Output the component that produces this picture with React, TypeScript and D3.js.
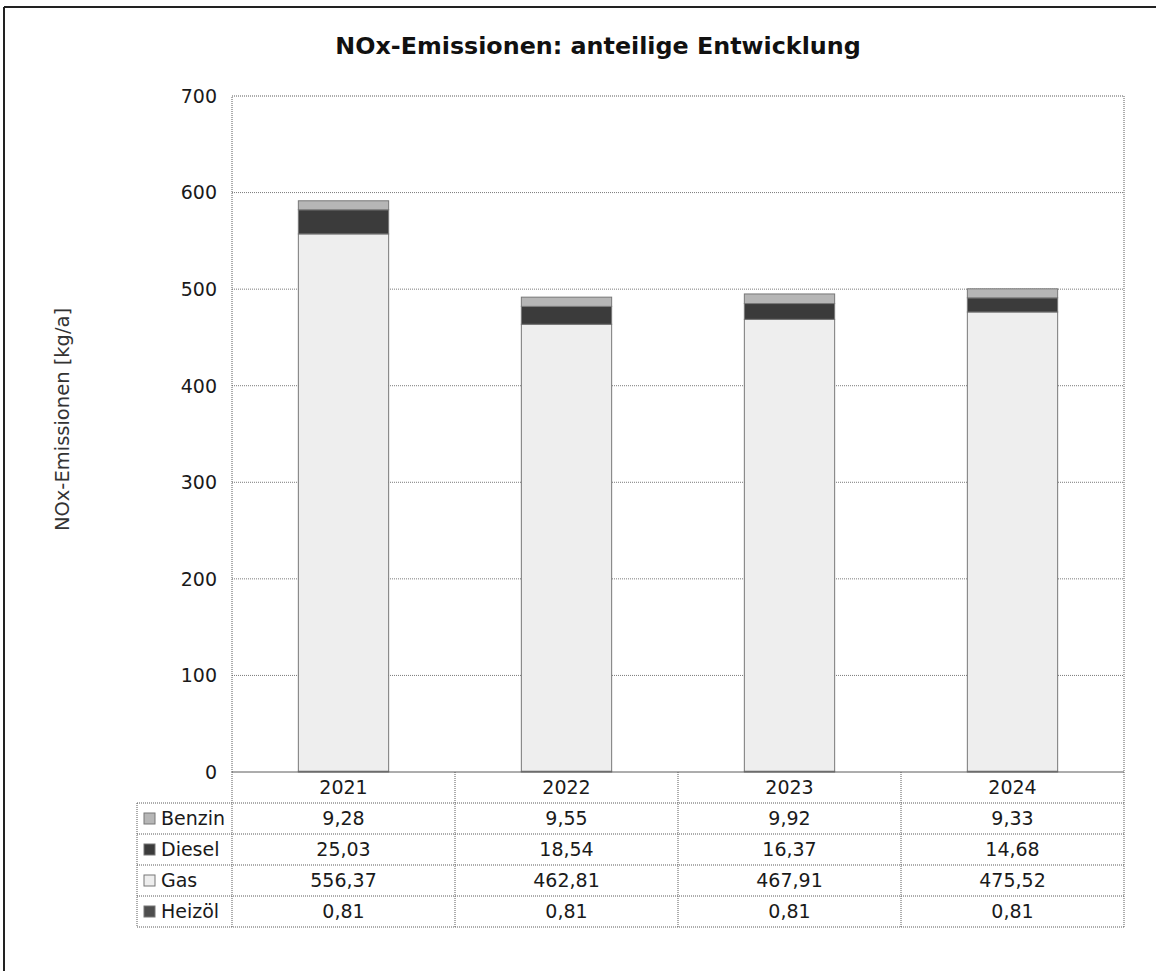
import React from "react";
import * as d3 from "d3";

// NOx emissions per fuel type, kg/a
const years = ["2021", "2022", "2023", "2024"];
const benzin = [9.28, 9.55, 9.92, 9.33];
const diesel = [25.03, 18.54, 16.37, 14.68];
const gas = [556.37, 462.81, 467.91, 475.52];
const heizoel = [0.81, 0.81, 0.81, 0.81];
const yTicks = [0, 100, 200, 300, 400, 500, 600, 700];

const series = [
  { key: "Heizöl", values: heizoel, fill: "#4e4e4e" },
  { key: "Gas", values: gas, fill: "#eeeeee" },
  { key: "Diesel", values: diesel, fill: "#3b3b3b" },
  { key: "Benzin", values: benzin, fill: "#b6b6b6" },
];

const W = 1156;
const H = 971;
const plot = { left: 232, right: 1124, top: 96, bottom: 772 };
const rowH = 31;
const tableLeft = 137;
const font = "'DejaVu Sans', Verdana, sans-serif";
const fmt = (v: number) => v.toFixed(2).replace(".", ",");

export default function App() {
  const x = d3.scaleBand<string>().domain(years).range([plot.left, plot.right]).padding(0);
  const y = d3.scaleLinear().domain([0, 700]).range([plot.bottom, plot.top]);
  const barW = x.bandwidth() * 0.405;

  const rows = years.map((yr, i) => {
    const r: Record<string, number | string> = { year: yr };
    series.forEach((s) => (r[s.key] = s.values[i]));
    return r;
  });
  const stacked = d3.stack<any>().keys(series.map((s) => s.key))(rows);

  const tableRows = [...series].reverse();
  const tableBottom = plot.bottom + rowH * (tableRows.length + 1);

  return (
    <svg width={W} height={H} style={{ display: "block", position: "absolute", left: 0, top: 0 }}>
      <rect width={W} height={H} fill="#ffffff" />
      {/* frame */}
      <line x1={4} x2={W} y1={7} y2={7} stroke="#222" strokeWidth={2} />
      <line x1={4} x2={4} y1={7} y2={H} stroke="#222" strokeWidth={2} />

      <text x={598} y={54} textAnchor="middle" fontFamily={font} fontWeight="bold" fontSize={23.8} fill="#111">
        NOx-Emissionen: anteilige Entwicklung
      </text>

      {/* grid */}
      {yTicks.slice(1, -1).map((t) => (
        <line key={t} x1={plot.left} x2={plot.right} y1={y(t)} y2={y(t)} stroke="#7a7a7a" strokeDasharray="1,1" />
      ))}
      {yTicks.map((t) => (
        <text key={"l" + t} x={217} y={y(t)} dy="0.36em" textAnchor="end" fontFamily={font} fontSize={19} fill="#1a1a1a">
          {t}
        </text>
      ))}

      <text
        transform={`translate(69,${(302 + 537) / 2}) rotate(-90)`}
        textAnchor="middle"
        fontFamily={font}
        fontSize={19.5}
        fill="#333"
      >
        NOx-Emissionen [kg/a]
      </text>

      {/* stacked bars */}
      {stacked.map((layer, li) => (
        <g key={layer.key}>
          {layer.map((d, i) => (
            <rect
              key={years[i]}
              x={(x(years[i]) as number) + (x.bandwidth() - barW) / 2}
              y={y(d[1])}
              width={barW}
              height={Math.max(0, y(d[0]) - y(d[1]))}
              fill={series[li].fill}
              stroke="#777"
              strokeWidth={1}
            />
          ))}
        </g>
      ))}

      {/* plot border */}
      <rect
        x={plot.left}
        y={plot.top}
        width={plot.right - plot.left}
        height={plot.bottom - plot.top}
        fill="none"
        stroke="#5a5a5a"
        strokeDasharray="1,1"
      />

      {/* data table */}
      <g fontFamily={font} fontSize={19} fill="#1a1a1a">
        {d3.range(tableRows.length + 2).map((k) => {
          const yy = plot.bottom + k * rowH;
          return (
            <line
              key={"h" + k}
              x1={k === 0 ? plot.left : tableLeft}
              x2={plot.right}
              y1={yy}
              y2={yy}
              stroke="#5a5a5a"
              strokeDasharray="1,1"
            />
          );
        })}
        <line x1={tableLeft} x2={tableLeft} y1={plot.bottom + rowH} y2={tableBottom} stroke="#5a5a5a" strokeDasharray="1,1" />
        {years.map((yr) => (
          <line
            key={"v" + yr}
            x1={(x(yr) as number) + x.bandwidth()}
            x2={(x(yr) as number) + x.bandwidth()}
            y1={plot.bottom}
            y2={tableBottom}
            stroke="#5a5a5a"
            strokeDasharray="1,1"
          />
        ))}
        <line x1={plot.left} x2={plot.left} y1={plot.bottom} y2={tableBottom} stroke="#5a5a5a" strokeDasharray="1,1" />

        {years.map((yr) => (
          <text key={"y" + yr} x={(x(yr) as number) + x.bandwidth() / 2} y={plot.bottom + rowH / 2} dy="0.36em" textAnchor="middle">
            {yr}
          </text>
        ))}
        {tableRows.map((s, ri) => {
          const cy = plot.bottom + rowH * (ri + 1) + rowH / 2;
          return (
            <g key={s.key}>
              <rect x={144} y={cy - 5.5} width={11} height={11} fill={s.fill} stroke="#777" strokeWidth={1} />
              <text x={161} y={cy} dy="0.36em">
                {s.key}
              </text>
              {s.values.map((v, i) => (
                <text key={i} x={(x(years[i]) as number) + x.bandwidth() / 2} y={cy} dy="0.36em" textAnchor="middle">
                  {fmt(v)}
                </text>
              ))}
            </g>
          );
        })}
      </g>
    </svg>
  );
}
